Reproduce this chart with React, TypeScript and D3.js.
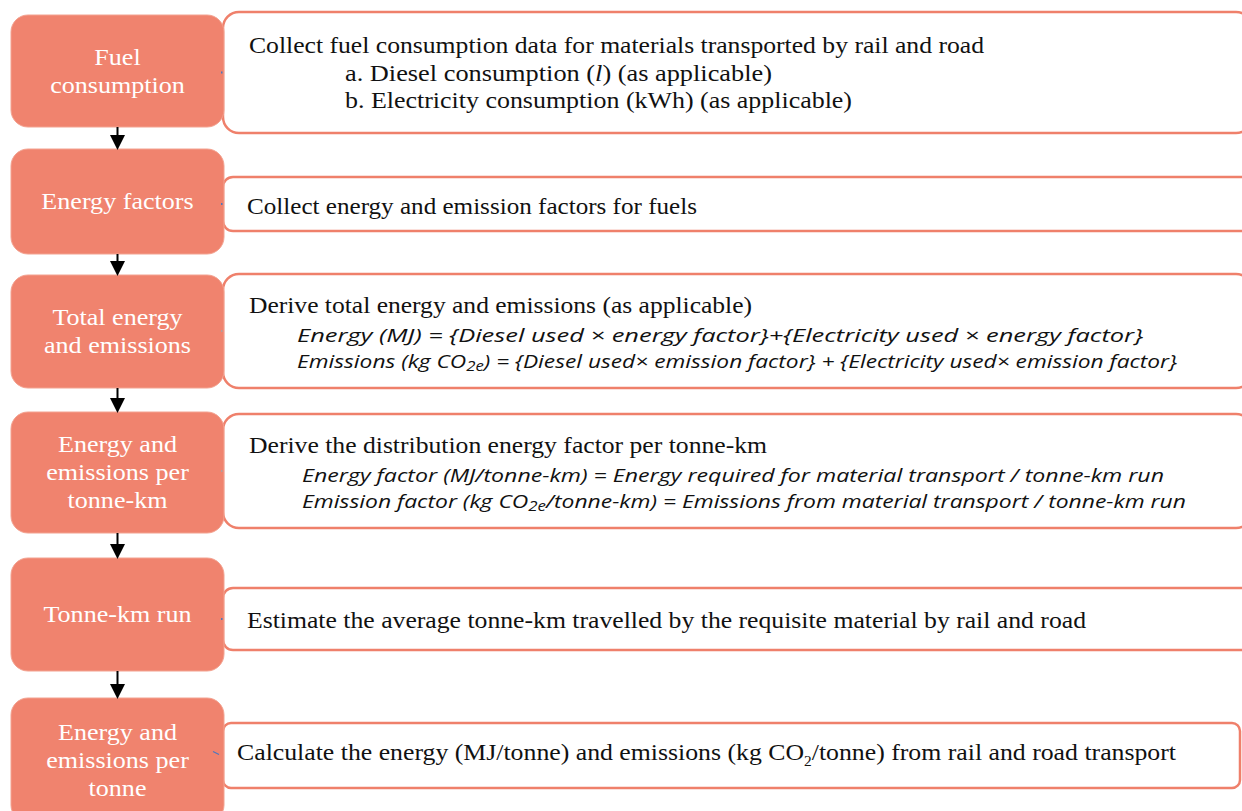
import React from "react";
import * as d3 from "d3";

// step labels (left boxes)
const stepLabels: string[][] = [
  ["Fuel", "consumption"],
  ["Energy factors"],
  ["Total energy", "and emissions"],
  ["Energy and", "emissions per", "tonne-km"],
  ["Tonne-km run"],
  ["Energy and", "emissions per", "tonne"],
];

type Seg = { t: string; it?: boolean; f?: boolean; sub?: boolean };

// description text (right boxes), one array of segments per line
const descriptions: Seg[][][] = [
  [
    [{ t: "Collect fuel consumption data for materials transported by rail and road" }],
    [{ t: "a. Diesel consumption (" }, { t: "l", it: true }, { t: ") (as applicable)" }],
    [{ t: "b. Electricity consumption (kWh) (as applicable)" }],
  ],
  [[{ t: "Collect energy and emission factors for fuels" }]],
  [
    [{ t: "Derive total energy and emissions (as applicable)" }],
    [{ t: "Energy (MJ) = {Diesel used × energy factor}+{Electricity used × energy factor}", f: true }],
    [
      { t: "Emissions (kg CO", f: true },
      { t: "2e", f: true, sub: true },
      { t: ") = {Diesel used× emission factor} + {Electricity used× emission factor}", f: true },
    ],
  ],
  [
    [{ t: "Derive the distribution energy factor per tonne-km" }],
    [{ t: "Energy factor (MJ/tonne-km) = Energy required for material transport / tonne-km run", f: true }],
    [
      { t: "Emission factor (kg CO", f: true },
      { t: "2e", f: true, sub: true },
      { t: "/tonne-km) = Emissions from material transport / tonne-km run", f: true },
    ],
  ],
  [[{ t: "Estimate the average tonne-km travelled by the requisite material by rail and road" }]],
  [
    [
      { t: "Calculate the energy (MJ/tonne) and emissions (kg CO" },
      { t: "2", sub: true },
      { t: "/tonne) from rail and road transport" },
    ],
  ],
];

// layout of each row (pixels): box spans, text baselines, line start and end x
const layout = [
  { left: [15, 127], right: [12, 133], rx: 16, rEnd: 1252, base: [53, 81, 108], xs: [249, 345, 345], xe: [984, 772, 852], mark: "#4a78c0" },
  { left: [149, 254], right: [177, 231], rx: 10, rEnd: 1252, base: [214], xs: [247], xe: [697], mark: "#4a78c0" },
  { left: [275, 388], right: [274, 388], rx: 16, rEnd: 1252, base: [313, 342, 368], xs: [249, 297, 297], xe: [752, 1143, 1177], mark: "#b0a0a0" },
  { left: [412, 533], right: [414, 528], rx: 16, rEnd: 1252, base: [453, 482, 508], xs: [249, 302, 302], xe: [767, 1164, 1186], mark: "#b0a0a0" },
  { left: [558, 671], right: [588, 650], rx: 10, rEnd: 1252, base: [628], xs: [247], xe: [1086], mark: "#4a78c0" },
  { left: [698, 822], right: [723, 788], rx: 8, rEnd: 1240, base: [760], xs: [237], xe: [1176], mark: "#4a78c0" },
];

const W = 1242;
const H = 811;
const FILL = "#f0836e";
const EDGE = "#ef806b";
const SERIF = "'Liberation Serif', 'DejaVu Serif', serif";
const ITAL = "'Open Sans', Lato, sans-serif";

const boxX = d3.scaleLinear().domain([0, 1]).range([11, 224]);
const lineH = 28;
const stretch = 1.11;

function Line({ segs, x, y, x2 }: { segs: Seg[]; x: number; y: number; x2: number }) {
  let shift = 0;
  return (
    <text
      x={x}
      y={y}
      fill="#111"
      fontFamily={SERIF}
      fontSize={23.5}
      textLength={x2 - x}
      lengthAdjust="spacingAndGlyphs"
    >
      {segs.map((s, i) => {
        const target = s.sub ? (s.f ? 3 : 6) : 0;
        const dy = target - shift;
        shift = target;
        return (
          <tspan
            key={i}
            dy={dy || undefined}
            fontFamily={s.f ? ITAL : SERIF}
            fontStyle={s.f || s.it ? "italic" : "normal"}
            fontSize={s.sub ? 14 : s.f ? 19 : 23.5}
          >
            {s.t}
          </tspan>
        );
      })}
    </text>
  );
}

export default function App() {
  const cx = (boxX(0) + boxX(1)) / 2;
  return (
    <svg width={W} height={H} style={{ position: "absolute", left: 0, top: 0, background: "#fff" }}>
      {/* right boxes */}
      {layout.map((l, i) => (
        <rect
          key={"r" + i}
          x={223}
          y={l.right[0]}
          width={l.rEnd - 223}
          height={l.right[1] - l.right[0]}
          rx={l.rx}
          fill="#fff"
          stroke={EDGE}
          strokeWidth={2.5}
        />
      ))}
      {/* left boxes */}
      {layout.map((l, i) => (
        <rect
          key={"l" + i}
          x={boxX(0)}
          y={l.left[0]}
          width={boxX(1) - boxX(0)}
          height={l.left[1] - l.left[0]}
          rx={17}
          fill={FILL}
          stroke="#f3a290"
          strokeWidth={1}
        />
      ))}
      {/* connector marks */}
      {layout.map((l, i) => {
        const m = (l.right[0] + l.right[1]) / 2;
        return i === 5 ? (
          <line key={"m" + i} x1={213} y1={m - 4} x2={219} y2={m - 1} stroke={l.mark} strokeWidth={1.2} />
        ) : (
          <rect key={"m" + i} x={221} y={m - 1} width={1.5} height={2} fill={l.mark} />
        );
      })}
      {/* arrows */}
      {layout.slice(1).map((l, i) => {
        const y0 = layout[i].left[1];
        const y1 = l.left[0];
        return (
          <g key={"a" + i}>
            <line x1={cx} x2={cx} y1={y0} y2={y1 - 12} stroke="#000" strokeWidth={2} />
            <path d={`M${cx - 7.5},${y1 - 14}L${cx + 7.5},${y1 - 14}L${cx},${y1 + 1}Z`} fill="#000" />
          </g>
        );
      })}
      {/* left labels */}
      {stepLabels.map((lines, i) => {
        const l = layout[i];
        const mid = (l.left[0] + l.left[1]) / 2;
        const first = mid - ((lines.length - 1) * lineH) / 2 + 8;
        return (
          <g key={"t" + i} transform={`translate(${cx},0) scale(${stretch},1)`}>
            <text fill="#fff" fontFamily={SERIF} fontSize={23.5} textAnchor="middle">
              {lines.map((s, j) => (
                <tspan key={j} x={0} y={first + j * lineH}>
                  {s}
                </tspan>
              ))}
            </text>
          </g>
        );
      })}
      {/* descriptions */}
      {descriptions.map((lines, i) =>
        lines.map((segs, j) => (
          <Line key={i + "-" + j} segs={segs} x={layout[i].xs[j]} y={layout[i].base[j]} x2={layout[i].xe[j]} />
        ))
      )}
    </svg>
  );
}
